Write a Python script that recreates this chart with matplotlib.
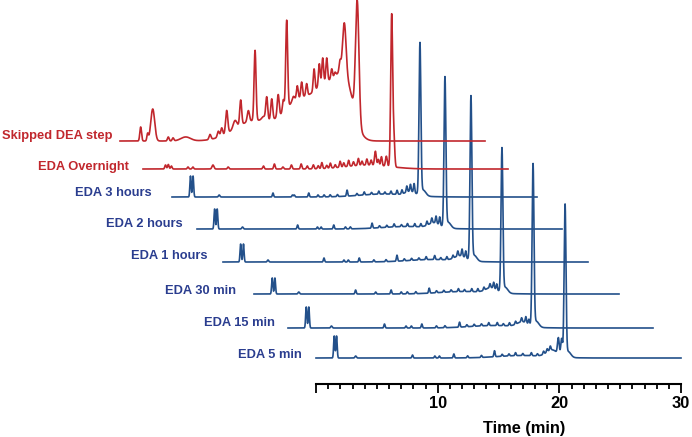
import numpy as np
import matplotlib
matplotlib.use("Agg")
import matplotlib.pyplot as plt

# ---------------- data ----------------
# Each chromatogram is described by its peak table: retention time (min),
# height (signal units) and width (sigma, min).
labels = ["EDA 5 min", "EDA 15 min", "EDA 30 min", "EDA 1 hours",
          "EDA 2 hours", "EDA 3 hours", "EDA Overnight", "Skipped DEA step"]

eda5_t = [1.50, 1.69, 3.26, 7.93, 9.77, 10.14, 11.33, 12.46, 13.6, 14.67, 15.3, 15.86, 16.4, 17.0, 17.7,
          18.2, 18.7, 19.0, 19.26, 19.92, 20.19, 20.47, 20.72, 17.0, 19.4]
eda5_h = [22, 22, 2, 3, 2, 2, 4, 2, 2, 6, 2, 2, 3, 2, 3, 2, 3, 3, 4, 16, 17, 150, 6, 2.5, 7]
eda5_w = [0.05, 0.05, 0.06, 0.05, 0.05, 0.05, 0.05, 0.05, 0.05, 0.05, 0.05, 0.05, 0.05, 0.05, 0.05,
          0.05, 0.05, 0.05, 0.05, 0.07, 0.07, 0.075, 0.22, 2.0, 0.45]

eda15_t = [1.50, 1.71, 3.57, 7.93, 9.7, 10.14, 11.0, 12.2, 12.9, 14.1, 14.7, 15.3, 15.9, 16.5, 17.2,
           17.7, 18.2, 18.7, 19.2, 19.55, 19.8, 20.14, 20.4, 17.0, 19.3]
eda15_h = [21, 21, 2, 4, 2, 2, 4, 2, 2, 5, 2, 2, 2, 3, 3, 2, 3, 3, 4, 6, 5, 160, 6, 2.5, 5]
eda15_w = [0.05, 0.05, 0.06, 0.05, 0.05, 0.05, 0.05, 0.05, 0.05, 0.05, 0.05, 0.05, 0.05, 0.05, 0.05,
           0.05, 0.05, 0.05, 0.05, 0.05, 0.05, 0.075, 0.22, 2.0, 0.45]

eda30_t = [1.50, 1.72, 3.68, 8.35, 10.0, 11.27, 12.1, 12.6, 13.3, 14.4, 15.0, 15.6, 16.2, 16.8, 17.3,
           17.9, 18.4, 18.9, 19.4, 19.7, 19.95, 20.38, 20.64, 17.3, 19.5]
eda30_h = [16, 16, 2, 4, 2, 4, 2, 2, 2, 5, 2, 2, 2, 3, 2, 3, 3, 3, 4, 6, 6, 142, 6, 2.5, 5]
eda30_w = [0.05, 0.05, 0.06, 0.05, 0.05, 0.05, 0.05, 0.05, 0.05, 0.05, 0.05, 0.05, 0.05, 0.05, 0.05,
           0.05, 0.05, 0.05, 0.05, 0.05, 0.05, 0.075, 0.22, 2.0, 0.45]

eda1h_t = [1.45, 1.68, 3.70, 8.30, 9.94, 10.3, 11.2, 12.4, 13.4, 14.3, 14.9, 15.5, 16.1, 16.7, 17.4,
           17.9, 18.4, 18.9, 19.3, 19.65, 19.95, 20.38, 20.64, 17.3, 19.5]
eda1h_h = [18, 18, 2, 4, 2, 2, 4, 2, 2, 6, 2, 2, 2, 3, 4, 2, 3, 3, 5, 7, 7, 162, 6, 2.5, 5]
eda1h_w = [0.05, 0.05, 0.06, 0.05, 0.05, 0.05, 0.05, 0.05, 0.05, 0.05, 0.05, 0.05, 0.05, 0.05, 0.05,
           0.05, 0.05, 0.05, 0.05, 0.05, 0.05, 0.075, 0.22, 2.0, 0.45]

eda2h_t = [1.45, 1.66, 3.74, 8.27, 9.9, 10.2, 11.24, 12.2, 12.6, 14.39, 15.0, 15.6, 16.2, 16.8, 17.3,
           17.9, 18.4, 18.9, 19.3, 19.65, 19.95, 20.38, 20.64, 17.3, 19.5]
eda2h_h = [20, 20, 2, 4, 2, 2, 4, 2, 2, 5, 2, 2, 3, 2, 3, 3, 3, 4, 5, 7, 8, 148, 6, 2.5, 5]
eda2h_w = [0.05, 0.05, 0.06, 0.05, 0.05, 0.05, 0.05, 0.05, 0.05, 0.05, 0.05, 0.05, 0.05, 0.05, 0.05,
           0.05, 0.05, 0.05, 0.05, 0.05, 0.05, 0.075, 0.22, 2.0, 0.45]

eda3h_t = [1.52, 1.73, 3.88, 8.30, 9.9, 10.05, 11.24, 12.0, 12.5, 13.0, 13.6, 14.39, 15.2, 15.8, 16.4,
           17.0, 17.5, 18.0, 18.5, 18.9, 19.3, 19.6, 19.9, 20.38, 20.64, 17.5, 19.6]
eda3h_h = [21, 21, 2, 4, 2, 2, 4, 2, 2, 2, 2, 6, 2, 3, 2, 3, 2, 3, 4, 4, 6, 7, 9, 150, 6, 3, 4]
eda3h_w = [0.05, 0.05, 0.06, 0.05, 0.05, 0.05, 0.05, 0.05, 0.05, 0.05, 0.05, 0.05, 0.05, 0.05, 0.05,
           0.05, 0.05, 0.05, 0.05, 0.05, 0.05, 0.05, 0.05, 0.075, 0.22, 2.0, 0.4]

over_t = [1.85, 2.08, 2.33, 3.7, 4.1, 5.75, 7.0, 9.9, 10.8, 11.5, 12.2, 13.0, 13.5, 14.0, 14.4, 14.7,
          15.1, 15.4, 15.8, 16.2, 16.5, 16.9, 17.3, 17.7, 18.0, 18.4, 18.75, 19.1, 19.35, 19.6, 20.0,
          20.44, 20.62, 18.5]
over_h = [4, 4.5, 3, 2, 2, 4, 2, 3, 5, 2, 4, 5, 3, 4, 3, 6, 3, 5, 3, 6, 4, 6, 4, 7, 4, 6, 5, 14, 6, 9, 10,
          152, 28, 4]
over_w = [0.06, 0.06, 0.06, 0.06, 0.06, 0.08, 0.06, 0.06, 0.06, 0.06, 0.06, 0.06, 0.06, 0.06, 0.06, 0.06,
          0.06, 0.06, 0.06, 0.06, 0.06, 0.06, 0.06, 0.06, 0.06, 0.06, 0.06, 0.07, 0.06, 0.06, 0.07,
          0.08, 0.07, 1.8]

skip_t = [1.70, 2.27, 2.69, 3.97, 4.36, 5.4, 7.4, 8.08, 8.36, 8.77, 9.45, 9.92, 10.55, 11.1, 11.8,
          12.06, 12.47, 13.0, 13.42, 13.7, 14.25, 14.57, 14.93, 15.34, 15.95, 16.38, 16.66, 16.99,
          17.4, 17.67, 18.08, 18.44, 19.5, 11.0, 14.8, 17.0, 18.5]
skip_h = [14, 7, 32, 4, 3, 4, 5, 6, 8, 23, 8, 25, 11, 70, 4, 23, 21, 22, 12, 88, 5, 13, 15, 12, 22,
          22, 25, 23, 10, 4, 10, 50, 120, 20, 40, 45, 55]
skip_w = [0.07, 0.06, 0.16, 0.07, 0.07, 0.4, 0.08, 0.08, 0.08, 0.09, 0.15, 0.08, 0.09, 0.08, 0.15,
          0.08, 0.08, 0.08, 0.07, 0.08, 0.1, 0.07, 0.07, 0.07, 0.07, 0.07, 0.07, 0.07, 0.07, 0.07,
          0.07, 0.14, 0.14, 1.6, 1.3, 0.9, 0.7]

peak_tables = [(eda5_t, eda5_h, eda5_w), (eda15_t, eda15_h, eda15_w), (eda30_t, eda30_h, eda30_w),
               (eda1h_t, eda1h_h, eda1h_w), (eda2h_t, eda2h_h, eda2h_w), (eda3h_t, eda3h_h, eda3h_w),
               (over_t, over_h, over_w), (skip_t, skip_h, skip_w)]

run_length = 30  # min
tick_labels = ["", "10", "20", "30"]

# ---------------- layout / style ----------------
W, H = 692, 437
px_per_min = 365 / 30.0
x0_px = 316
start_px = [316, 288, 254, 223, 197, 172, 143, 120]     # left end of each trace
base_px = [358, 328, 294, 262, 229, 197, 169, 141]      # baseline row of each trace
label_right_px = [302, 275, 236, 207, 183, 152, 129, 112]
label_y_px = [355, 323, 291, 256, 224, 193, 167, 136]

blue = "#23508a"
blue_lab = "#2a3d8f"
red = "#c1272d"
trace_col = [blue] * 6 + [red] * 2
label_col = [blue_lab] * 6 + [red] * 2

fig = plt.figure(figsize=(W / 100, H / 100), dpi=100)
ax = fig.add_axes([0, 0, 1, 1])
ax.set_xlim(-x0_px / px_per_min, (W - x0_px) / px_per_min)
ax.set_ylim(0, H)

t = np.linspace(0, run_length, 4000)
for i, (pt, ph, pw) in enumerate(peak_tables):
    sig = np.zeros_like(t)
    for c, h, w in zip(pt, ph, pw):
        sig += h * np.exp(-0.5 * ((t - c) / w) ** 2)
    dx = (start_px[i] - x0_px) / px_per_min
    yb = H - base_px[i]
    ax.plot(t + dx, sig + yb, color=trace_col[i], lw=1.2, solid_joinstyle="round", zorder=3)
    ax.text((label_right_px[i] - x0_px) / px_per_min, H - label_y_px[i], labels[i],
            ha="right", va="center", fontsize=9.3, fontweight="bold",
            color=label_col[i], family="Liberation Sans")

# time axis
for s in ["top", "left", "right"]:
    ax.spines[s].set_visible(False)
ax.spines["bottom"].set_position(("data", H - 384))
ax.spines["bottom"].set_bounds(0, 30)
ax.spines["bottom"].set_linewidth(1.5)
ax.set_yticks([])
ax.set_xticks([0, 10, 20, 30])
ax.set_xticklabels(tick_labels, fontsize=11.8, fontweight="bold", family="Liberation Sans")
ax.set_xticks(np.arange(0, 31, 1), minor=True)
ax.tick_params(axis="x", which="major", length=6.5, width=1.3, pad=2.5)
ax.tick_params(axis="x", which="minor", length=3.8, width=1.3)
ax.text((524 - x0_px) / px_per_min, H - 428, "Time (min)", ha="center", va="center",
        fontsize=11.8, fontweight="bold", family="Liberation Sans")

fig.savefig("out.png", dpi=100)
